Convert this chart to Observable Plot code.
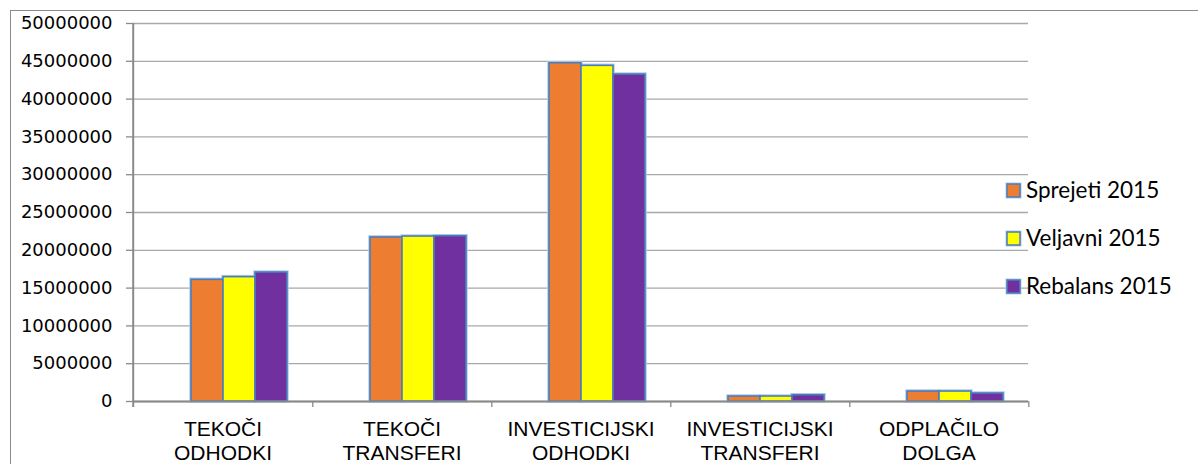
<!DOCTYPE html>
<html>
<head>
<meta charset="utf-8">
<script src="https://cdn.jsdelivr.net/npm/d3@7"></script>
<script src="https://cdn.jsdelivr.net/npm/@observablehq/plot@0.6"></script>
<style>
  body { margin: 0; background: #fff; }
  #wrap { position: relative; width: 1198px; height: 464px; overflow: hidden; }
  #chart { position: absolute; left: 0; top: 0; }
  #legend { position: absolute; left: 1000px; top: 170px; }
  #border { position: absolute; left: 10px; top: 10px; width: 1400px; height: 800px;
            border-left: 1.5px solid #8a8a8a; border-top: 1.5px solid #8a8a8a; pointer-events: none; }
</style>
</head>
<body>
<div id="wrap">
  <div id="chart"></div>
  <div id="legend"></div>
  <div id="border"></div>
</div>
<script>
// ---- data ----
const categories = ["TEKOČI ODHODKI", "TEKOČI TRANSFERI", "INVESTICIJSKI ODHODKI", "INVESTICIJSKI TRANSFERI", "ODPLAČILO DOLGA"];
const seriesNames = ["Sprejeti 2015", "Veljavni 2015", "Rebalans 2015"];
const sprejeti = [16100000, 21700000, 44750000, 660000, 1320000];
const veljavni = [16450000, 21820000, 44400000, 660000, 1320000];
const rebalans = [17060000, 21860000, 43250000, 830000, 1060000];
const yTicks = [0, 5000000, 10000000, 15000000, 20000000, 25000000, 30000000, 35000000, 40000000, 45000000, 50000000];
const seriesColors = ["#ED7D31", "#FFFF00", "#7030A0"];
// the original chart reserves an empty (hidden) first slot in every group
const slotDomain = ["(prazno)", ...seriesNames];

const rows = [];
[sprejeti, veljavni, rebalans].forEach((vals, s) =>
  vals.forEach((v, i) => rows.push({category: categories[i], series: seriesNames[s], value: v})));

const W = 1198, H = 464, mL = 131, mR = 169, mT = 23, mB = 63;
const facetW = (W - mL - mR) / categories.length;
const axisGray = "#8a8a8a";

const chart = Plot.plot({
  width: W, height: H,
  marginLeft: mL, marginRight: mR, marginTop: mT, marginBottom: mB,
  style: {background: "transparent", color: "#000", overflow: "visible"},
  fx: {domain: categories, padding: 0, axis: null, label: null},
  x: {domain: slotDomain, paddingInner: 0, paddingOuter: 0.72, axis: null},
  y: {domain: [0, 50000000], axis: null},
  color: {domain: seriesNames, range: seriesColors},
  marks: [
    Plot.gridY(yTicks, {stroke: "#a8a8a8", strokeOpacity: 1, strokeWidth: 1.3}),
    Plot.axisY(yTicks, {
      tickFormat: d => String(d), tickSize: 7, tickPadding: 14,
      fontSize: 18, fontFamily: "DejaVu Sans", stroke: axisGray, strokeWidth: 1.3, fill: "#000", label: null
    }),
    Plot.barY(rows, {fx: "category", x: "series", y: "value", fill: "series",
      stroke: "#b3cbe8", strokeWidth: 3.5, inset: 0}),
    Plot.barY(rows, {fx: "category", x: "series", y: "value", fill: "series",
      stroke: "#4a7ebb", strokeWidth: 1.6, inset: 0}),
    Plot.ruleY([0], {stroke: axisGray, strokeWidth: 2}),
    // vertical axis line (first group only), extending slightly below the baseline
    Plot.ruleX(categories.slice(0, 1), {x: null, fx: d => d, dx: -facetW / 2,
      insetBottom: -6, stroke: axisGray, strokeWidth: 2}),
    // tick marks at group boundaries
    Plot.ruleX(categories, {x: null, fx: d => d, dx: facetW / 2, y1: 0, y2: 0,
      insetBottom: -6, stroke: axisGray, strokeWidth: 1.3}),
    Plot.axisFx({anchor: "bottom", tickSize: 0, tickPadding: 18, label: null,
      fontSize: 21, fontFamily: "Liberation Sans", lineHeight: 1.12, fill: "#000",
      tickFormat: d => d.replace(" ", "\n")})
  ]
});
document.getElementById("chart").appendChild(chart);

// ---- legend ----
const leg = d3.select("#legend").append("svg").attr("width", 198).attr("height", 140);
const items = leg.selectAll("g").data(seriesNames).join("g")
  .attr("transform", (d, i) => `translate(0,${i * 48})`);
items.append("rect").attr("x", 7).attr("y", 14).attr("width", 13).attr("height", 13)
  .attr("fill", (d, i) => seriesColors[i]).attr("stroke", "#b3cbe8").attr("stroke-width", 3);
items.append("rect").attr("x", 7).attr("y", 14).attr("width", 13).attr("height", 13)
  .attr("fill", (d, i) => seriesColors[i]).attr("stroke", "#4a7ebb").attr("stroke-width", 1.5);
items.append("text").attr("x", 26).attr("y", 28).text(d => d)
  .attr("font-family", "Lato").attr("font-size", 22.5).attr("fill", "#000");
</script>
</body>
</html>
